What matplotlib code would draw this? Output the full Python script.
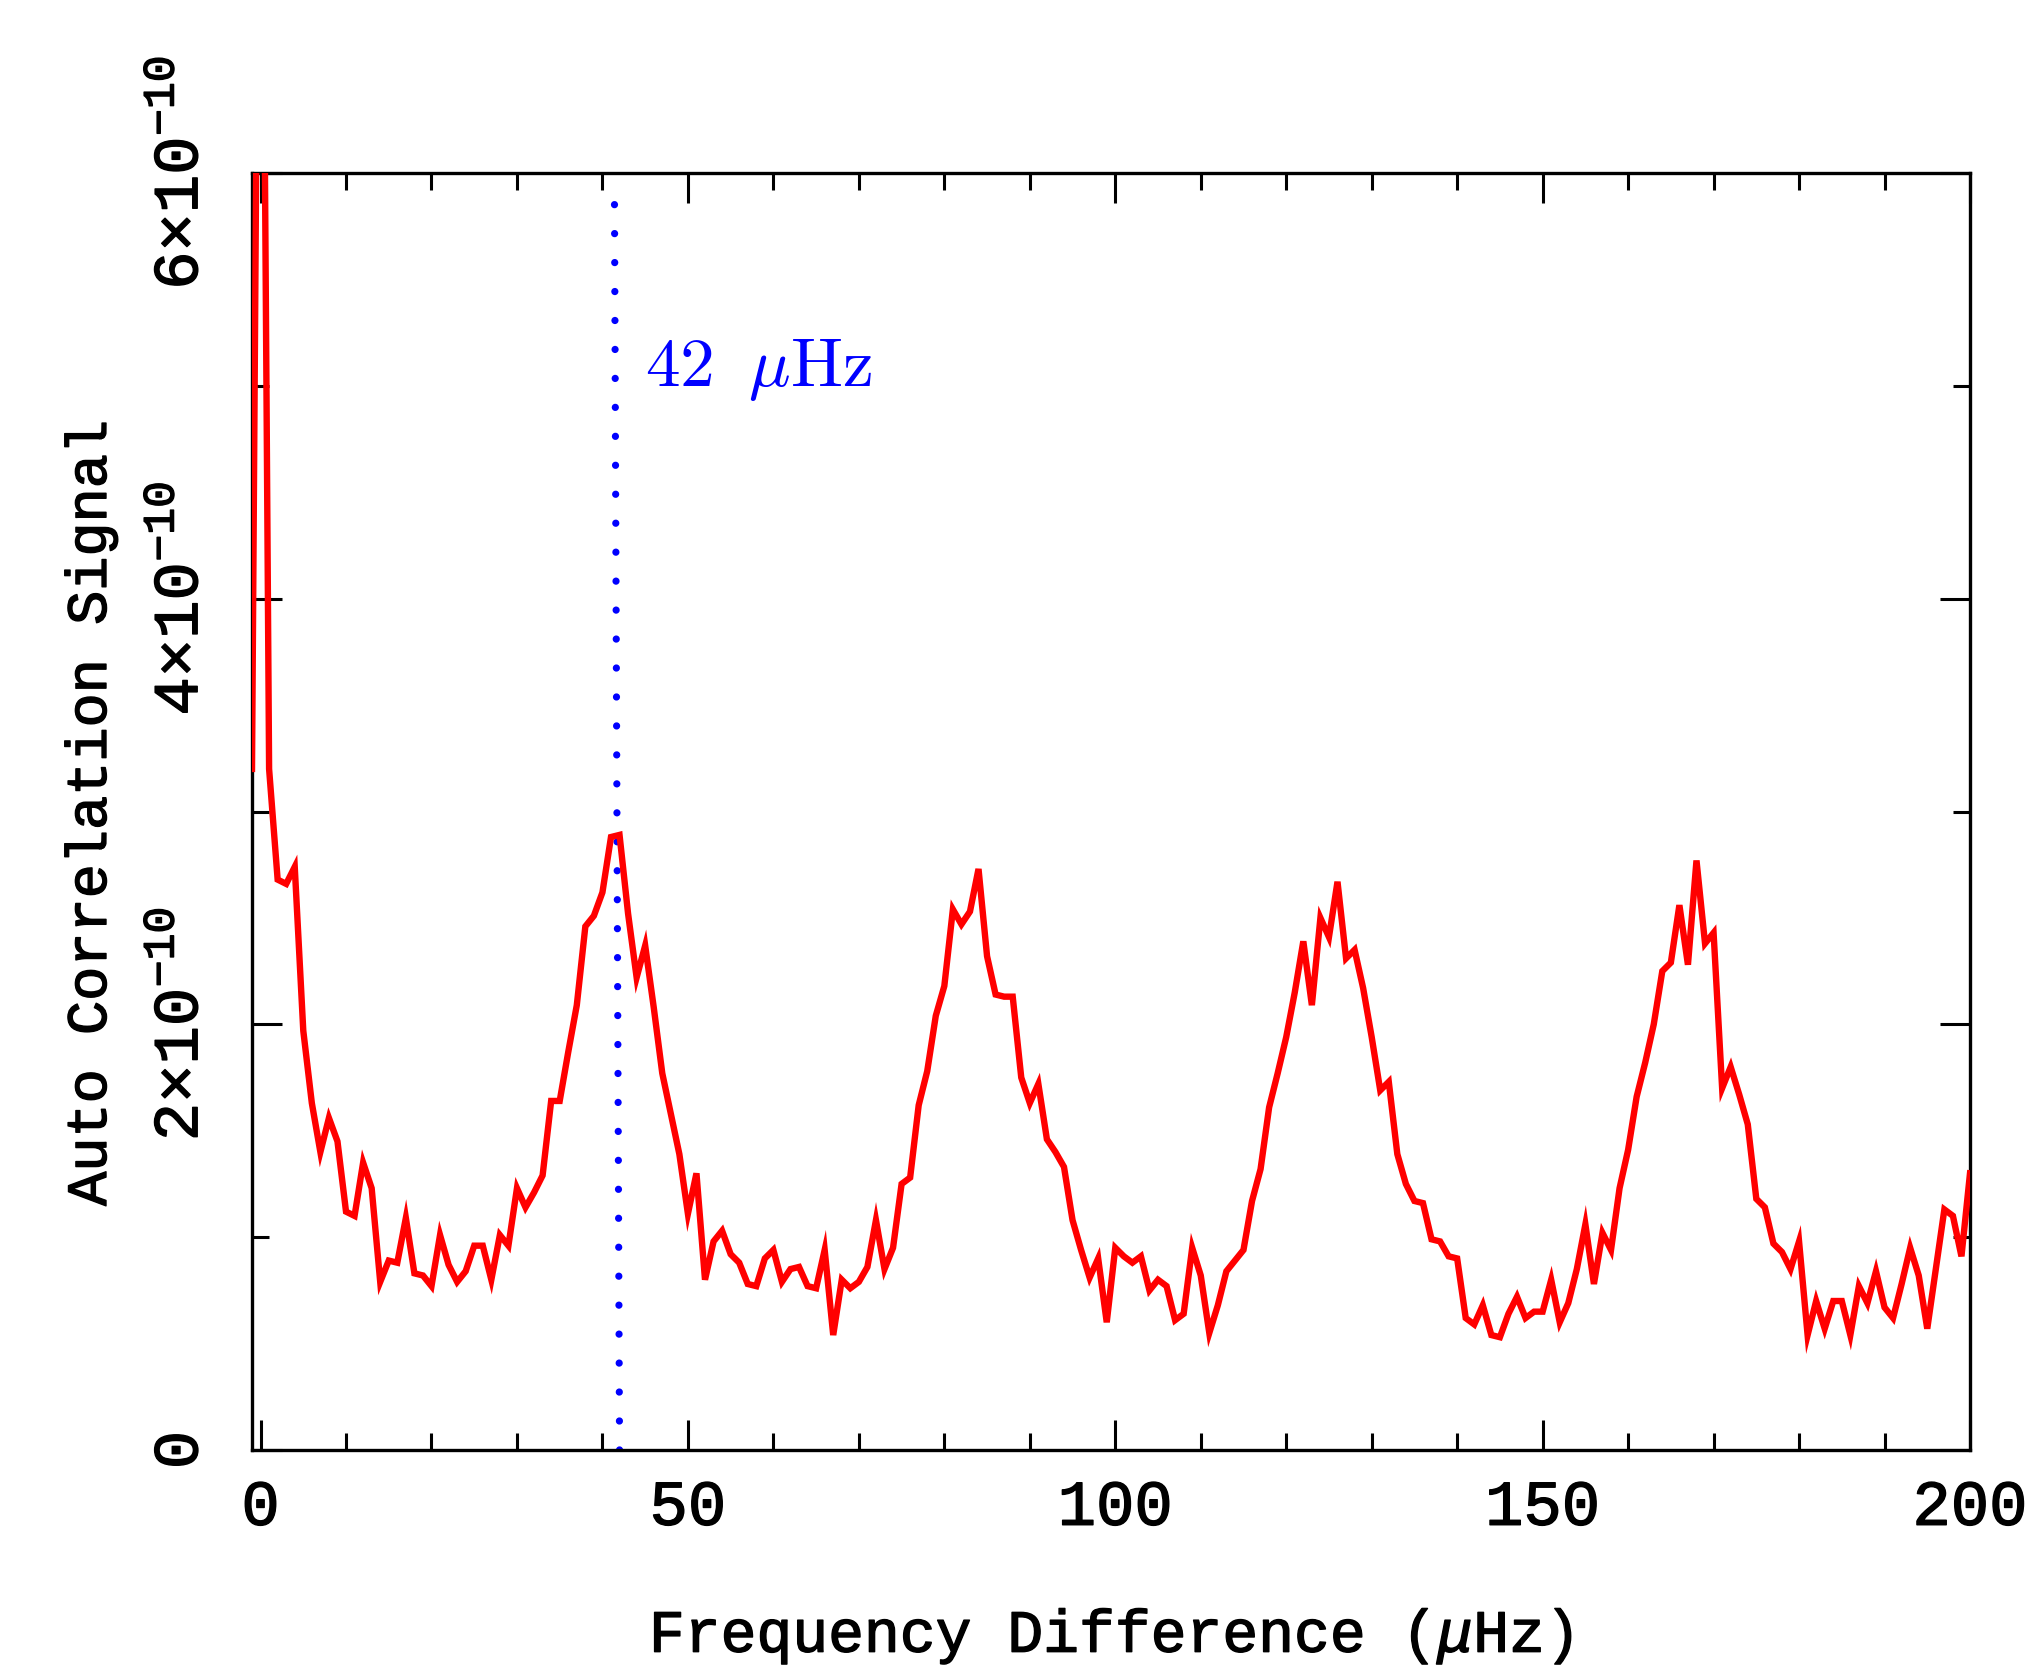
import numpy as np
import matplotlib
matplotlib.use("Agg")
import matplotlib.pyplot as plt
import matplotlib.patheffects as pe
from matplotlib.ticker import FixedLocator, MultipleLocator

# ─────────────────────────────────────────────
# DATA  (autocorrelation, units of 1e-10)
# ─────────────────────────────────────────────
freq_diff = np.arange(-1, 201)   # µHz, one bin per µHz

acf_1e10 = [
    3.20, 9.00, 3.20, 2.68, 2.66, 2.74, 1.97, 1.63, 1.40, 1.56,   # -1 .. 8
    1.45, 1.12, 1.10, 1.35, 1.23, 0.79, 0.89, 0.88, 1.09, 0.83,   # 9 .. 18
    0.82, 0.77, 1.01, 0.87, 0.79, 0.84, 0.96, 0.96, 0.80, 1.01,   # 19 .. 28
    0.96, 1.23, 1.14, 1.21, 1.29, 1.64, 1.64, 1.87, 2.09, 2.46,   # 29 .. 38
    2.51, 2.62, 2.88, 2.89, 2.52, 2.22, 2.37, 2.08, 1.77, 1.58,   # 39 .. 48
    1.39, 1.11, 1.30, 0.80, 0.98, 1.03, 0.92, 0.88, 0.78, 0.77,   # 49 .. 58
    0.90, 0.94, 0.79, 0.85, 0.86, 0.77, 0.76, 0.94, 0.54, 0.80,   # 59 .. 68
    0.76, 0.79, 0.86, 1.08, 0.85, 0.95, 1.25, 1.28, 1.62, 1.78,   # 69 .. 78
    2.04, 2.18, 2.54, 2.47, 2.53, 2.73, 2.32, 2.14, 2.13, 2.13,   # 79 .. 88
    1.75, 1.63, 1.72, 1.46, 1.40, 1.33, 1.08, 0.94, 0.81, 0.90,   # 89 .. 98
    0.60, 0.95, 0.91, 0.88, 0.91, 0.75, 0.80, 0.77, 0.61, 0.64,   # 99 .. 108
    0.95, 0.82, 0.55, 0.68, 0.84, 0.89, 0.94, 1.17, 1.32, 1.61,   # 109 .. 118
    1.77, 1.94, 2.15, 2.39, 2.09, 2.50, 2.41, 2.67, 2.31, 2.35,   # 119 .. 128
    2.17, 1.94, 1.69, 1.73, 1.39, 1.25, 1.17, 1.16, 0.99, 0.98,   # 129 .. 138
    0.91, 0.90, 0.62, 0.59, 0.68, 0.54, 0.53, 0.64, 0.72, 0.62,   # 139 .. 148
    0.65, 0.65, 0.80, 0.60, 0.69, 0.85, 1.06, 0.78, 1.02, 0.94,   # 149 .. 158
    1.23, 1.41, 1.66, 1.82, 2.00, 2.25, 2.29, 2.56, 2.28, 2.77,   # 159 .. 168
    2.38, 2.43, 1.70, 1.80, 1.67, 1.53, 1.18, 1.14, 0.97, 0.93,   # 169 .. 178
    0.85, 0.98, 0.54, 0.70, 0.57, 0.70, 0.70, 0.54, 0.77, 0.69,   # 179 .. 188
    0.84, 0.67, 0.62, 0.78, 0.95, 0.82, 0.57, 0.85, 1.13, 1.10,   # 189 .. 198
    0.91, 1.30,                                                   # 199 .. 200
]
acf = np.array(acf_1e10) * 1e-10

# marker line at the large separation (drawn slightly slanted in the original)
marker_x = [42.0, 41.4]
marker_y = [0.0, 5.95e-10]
marker_label = r"$42\;\;\mu\mathrm{Hz}$"

x_ticks = [0, 50, 100, 150, 200]
x_tick_labels = ["0", "50", "100", "150", "200"]
y_ticks = [0, 2e-10, 4e-10, 6e-10]
y_tick_labels = ["0", r"$2{\times}10^{-10}$", r"$4{\times}10^{-10}$", r"$6{\times}10^{-10}$"]

# ─────────────────────────────────────────────
# STYLE
# ─────────────────────────────────────────────
plt.rcParams["font.family"] = ["Liberation Mono", "DejaVu Sans"]
plt.rcParams["mathtext.fontset"] = "custom"
plt.rcParams["mathtext.rm"] = "Liberation Mono"
plt.rcParams["mathtext.it"] = "Liberation Mono:italic"
plt.rcParams["mathtext.bf"] = "Liberation Mono:bold"

# regular glyphs thickened a little, to get the medium PGPLOT stroke weight
thicken = [pe.withStroke(linewidth=1.0, foreground="black")]

W, H = 2034, 1669
fig = plt.figure(figsize=(W / 100, H / 100), dpi=100)
ax_l, ax_r, ax_t, ax_b = 252, 1970, 173, 1450
ax = fig.add_axes([ax_l / W, 1 - ax_b / H, (ax_r - ax_l) / W, (ax_b - ax_t) / H])

ax.plot(freq_diff, acf, color="#ff0000", linewidth=4.6, solid_joinstyle="miter", zorder=3)

ax.plot(marker_x, marker_y, color="#0000ff", linewidth=5.2,
        linestyle=(0, (0.01, 4.0)), dash_capstyle="round", zorder=2)
ax.text(45, 5.0e-10, marker_label, color="#0000ff", fontsize=50,
        ha="left", va="baseline", math_fontfamily="cm")

ax.set_xlim(-1, 200)
ax.set_ylim(0, 6e-10)

ax.xaxis.set_major_locator(FixedLocator(x_ticks))
ax.xaxis.set_minor_locator(MultipleLocator(10))
ax.set_xticklabels(x_tick_labels)
ax.yaxis.set_major_locator(FixedLocator(y_ticks))
ax.yaxis.set_minor_locator(MultipleLocator(1e-10))
ax.set_yticklabels(y_tick_labels)

for side in ax.spines.values():
    side.set_linewidth(2.4)
ax.tick_params(which="both", direction="in", top=True, right=True, width=2.2, color="black")
ax.tick_params(which="major", length=21.5)
ax.tick_params(which="minor", length=12)
ax.tick_params(axis="x", labelsize=46, pad=20)
ax.tick_params(axis="y", labelsize=46, pad=30, labelrotation=90)
for lbl in ax.get_yticklabels():
    lbl.set_va("center")
for lbl in ax.get_xticklabels() + ax.get_yticklabels():
    lbl.set_path_effects(thicken)

fig.text(1111 / W, 1 - 1652 / H, r"Frequency Difference ($\mu$Hz)",
         fontsize=43, ha="center", va="baseline", path_effects=thicken)
fig.text(91 / W, 1 - 812 / H, "Auto Correlation Signal",
         fontsize=41, ha="center", va="center", rotation=90, path_effects=thicken)

fig.savefig("out.png", dpi=100)
